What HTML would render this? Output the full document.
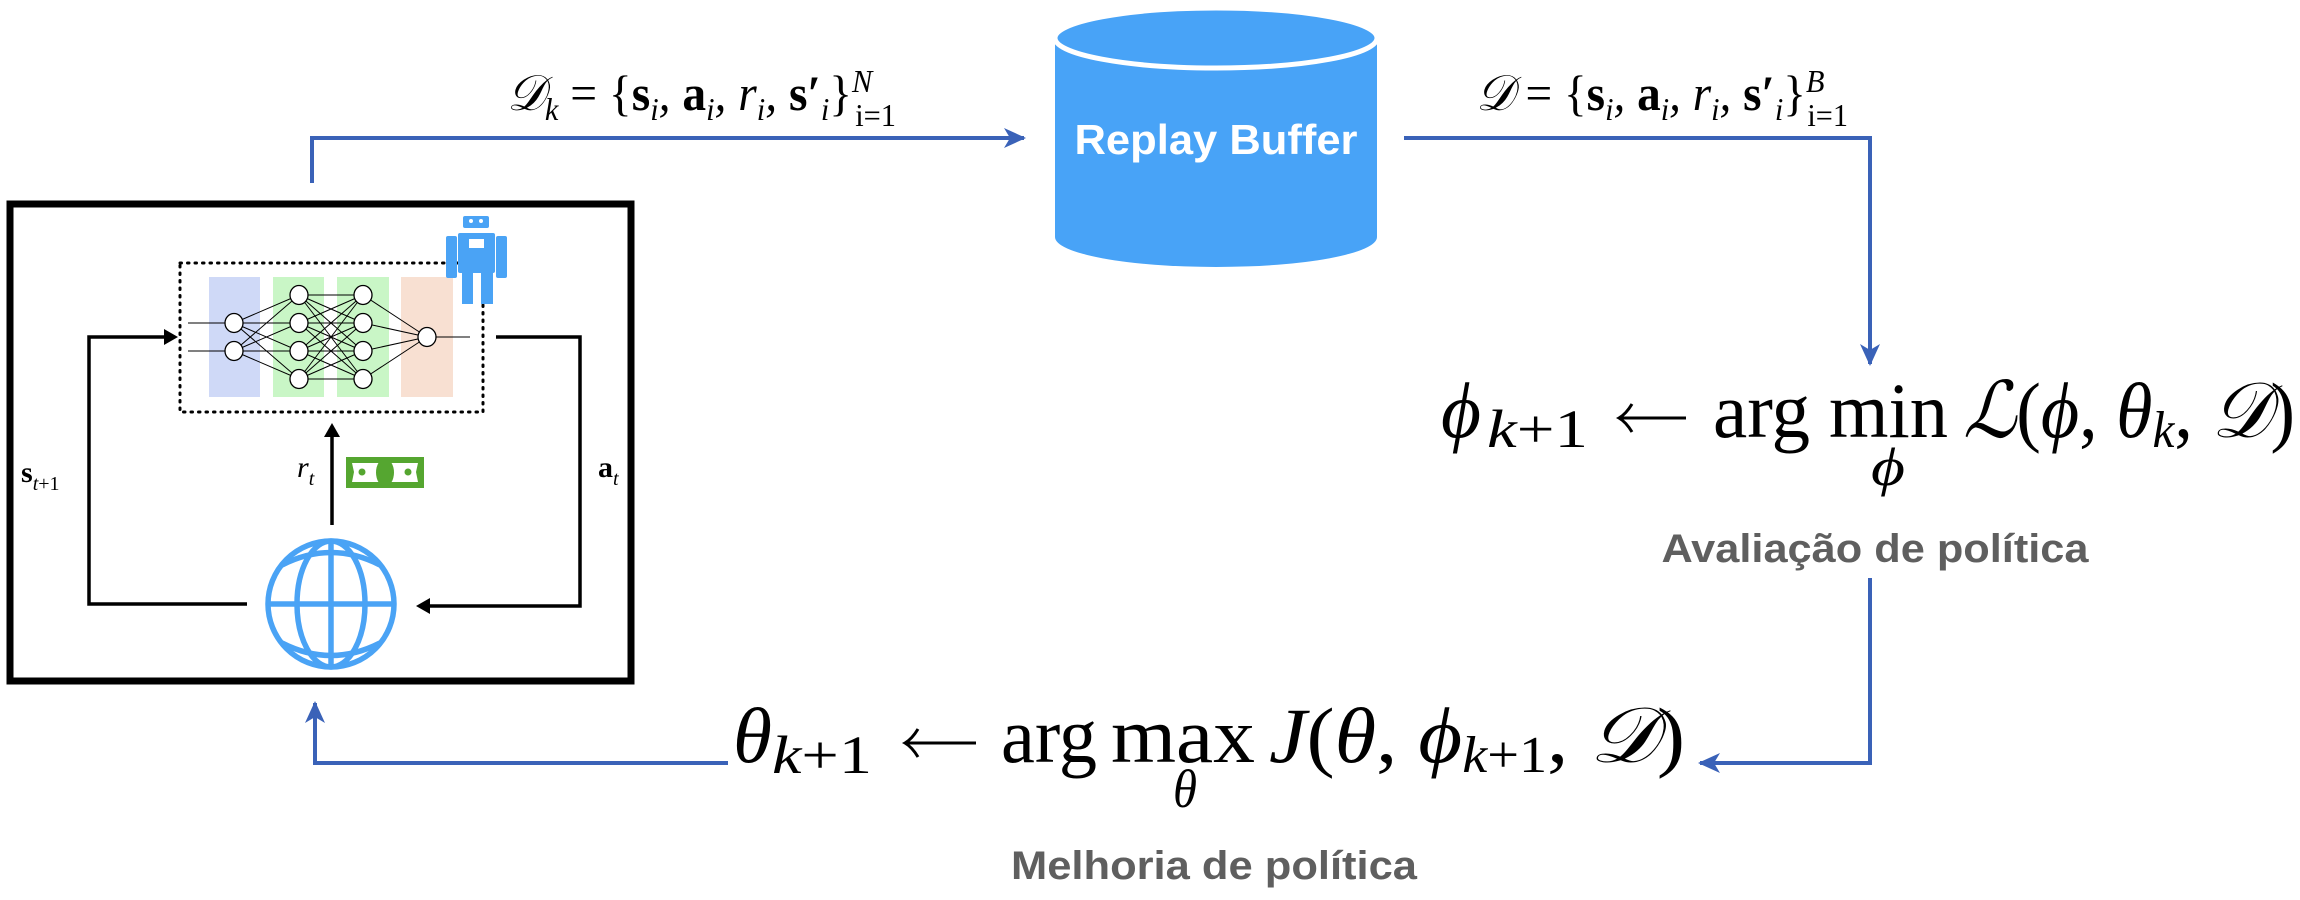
<!DOCTYPE html>
<html><head><meta charset="utf-8"><style>
html,body{margin:0;padding:0;background:#fff;}
svg{display:block;}
.m{font-family:"Liberation Serif","DejaVu Serif",serif;fill:#000;}
</style></head><body>
<svg width="2300" height="900" viewBox="0 0 2300 900" xmlns="http://www.w3.org/2000/svg">
<defs>
<marker id="ab" markerWidth="22" markerHeight="22" refX="20" refY="11" orient="auto" markerUnits="userSpaceOnUse"><path d="M0,1 L22,11 L0,21 L6,11 Z" fill="#3a62b8"/></marker>
</defs>
<rect x="10" y="204" width="621" height="477" fill="none" stroke="#000" stroke-width="7"/>
<rect x="180" y="263" width="303" height="149" fill="none" stroke="#000" stroke-width="3" stroke-dasharray="1.5 6" stroke-linecap="round"/>
<g>
<rect x="209" y="277" width="51" height="120" fill="#cfd9f7"/>
<rect x="273" y="277" width="51" height="120" fill="#c9f6c6"/>
<rect x="337" y="277" width="52" height="120" fill="#c9f6c6"/>
<rect x="401" y="277" width="52" height="120" fill="#f8e0d2"/>
<g stroke="#000" stroke-width="1">
<line x1="188" y1="323" x2="225" y2="323"/><line x1="188" y1="351" x2="225" y2="351"/>
<path d="M234,323L299,295M234,323L299,323M234,323L299,351M234,323L299,379M234,351L299,295M234,351L299,323M234,351L299,351M234,351L299,379"/>
<path d="M299,295L363,295M299,295L363,323M299,295L363,351M299,295L363,379M299,323L363,295M299,323L363,323M299,323L363,351M299,323L363,379M299,351L363,295M299,351L363,323M299,351L363,351M299,351L363,379M299,379L363,295M299,379L363,323M299,379L363,351M299,379L363,379"/>
<path d="M363,295L427,337M363,323L427,337M363,351L427,337M363,379L427,337"/>
<line x1="436" y1="337" x2="470" y2="337"/>
</g>
<g fill="#fff" stroke="#000" stroke-width="1.3">
<ellipse cx="234" cy="323" rx="9" ry="9.5"/><ellipse cx="234" cy="351" rx="9" ry="9.5"/>
<ellipse cx="299" cy="295" rx="9" ry="9.5"/><ellipse cx="299" cy="323" rx="9" ry="9.5"/><ellipse cx="299" cy="351" rx="9" ry="9.5"/><ellipse cx="299" cy="379" rx="9" ry="9.5"/>
<ellipse cx="363" cy="295" rx="9" ry="9.5"/><ellipse cx="363" cy="323" rx="9" ry="9.5"/><ellipse cx="363" cy="351" rx="9" ry="9.5"/><ellipse cx="363" cy="379" rx="9" ry="9.5"/>
<ellipse cx="427" cy="337" rx="9" ry="9.5"/>
</g>
</g>
<g fill="#4aa3f5">
<rect x="463" y="216" width="26" height="12" rx="2"/>
<rect x="458" y="233" width="37" height="40" rx="2"/>
<rect x="446" y="236" width="11" height="42" rx="2"/>
<rect x="496" y="236" width="11" height="42" rx="2"/>
<rect x="462" y="272" width="11" height="32"/><rect x="481" y="272" width="12" height="32"/>
<rect x="469" y="239" width="15" height="9" fill="#fff"/>
<circle cx="471" cy="221" r="2" fill="#fff"/><circle cx="481" cy="221" r="2" fill="#fff"/>
</g>
<g stroke="#000" stroke-width="3.5" fill="none">
<polyline points="247,604 89,604 89,337 166,337"/>
<polyline points="496,337 580,337 580,606 428,606"/>
<line x1="332" y1="525" x2="332" y2="434"/>
</g>
<path d="M178,337 L164,329 L164,345 Z" fill="#000"/>
<path d="M416,606 L430,598 L430,614 Z" fill="#000"/>
<path d="M332,423 L324,437 L340,437 Z" fill="#000"/>
<text x="21" y="482" class="m" font-size="30" font-weight="bold">s<tspan font-style="italic" font-weight="normal" font-size="20" dy="8">t</tspan><tspan font-weight="normal" font-size="20">+1</tspan></text>
<text x="297" y="477" class="m" font-size="30" font-style="italic">r<tspan font-size="20" dy="8">t</tspan></text>
<text x="598" y="477" class="m" font-size="30" font-weight="bold">a<tspan font-style="italic" font-weight="normal" font-size="20" dy="8">t</tspan></text>
<g>
<rect x="346" y="457" width="78" height="31" fill="#55a630"/>
<path d="M352,463 H418 L416,472 L418,482 H352 L354,472 Z" fill="#fff"/>
<ellipse cx="385" cy="472.5" rx="9" ry="14" fill="#55a630"/>
<circle cx="362" cy="472" r="3.5" fill="#55a630"/><circle cx="408" cy="472" r="3.5" fill="#55a630"/>
</g>
<g fill="none" stroke="#4aa3f5" stroke-width="5.5">
<ellipse cx="331" cy="604" rx="63" ry="63"/>
<ellipse cx="331" cy="604" rx="34" ry="63"/>
<line x1="331" y1="541" x2="331" y2="667"/>
<line x1="268" y1="604" x2="394" y2="604"/>
<path d="M282,565 Q331,540 380,565"/>
<path d="M282,643 Q331,668 380,643"/>
</g>
<g>
<path d="M1055,38 V237 A161,30 0 0 0 1377,237 V38 Z" fill="#48a3f7"/>
<ellipse cx="1216" cy="38" rx="161" ry="30" fill="#48a3f7" stroke="#fff" stroke-width="5"/>
<text x="1216" y="154" text-anchor="middle" font-family="Liberation Sans, sans-serif" font-size="42" font-weight="bold" fill="#fff" textLength="283" lengthAdjust="spacingAndGlyphs">Replay Buffer</text>
</g>
<g stroke="#3a62b8" stroke-width="4" fill="none">
<polyline points="312,183 312,138 1024,138" marker-end="url(#ab)"/>
<polyline points="1404,138 1870,138 1870,364" marker-end="url(#ab)"/>
<polyline points="1870,578 1870,763 1700,763" marker-end="url(#ab)"/>
<polyline points="728,763 315,763 315,703" marker-end="url(#ab)"/>
</g>
<text x="507" y="110" class="m" font-size="50" font-style="italic" textLength="389" lengthAdjust="spacingAndGlyphs">𝒟<tspan font-size="32" dy="10">k</tspan><tspan dy="-10" font-style="normal"> = {</tspan><tspan font-weight="bold" font-style="normal">s</tspan><tspan font-size="32" dy="10">i</tspan><tspan dy="-10">, </tspan><tspan font-weight="bold" font-style="normal">a</tspan><tspan font-size="32" dy="10">i</tspan><tspan dy="-10">, r</tspan><tspan font-size="32" dy="10">i</tspan><tspan dy="-10">, </tspan><tspan font-weight="bold" font-style="normal">s′</tspan><tspan font-size="32" dy="10">i</tspan><tspan dy="-10" font-style="normal">}</tspan><tspan font-size="32" dy="-18">N</tspan><tspan font-size="32" dx="-18" dy="34" font-style="normal">i=1</tspan></text>
<text x="1476" y="110" class="m" font-size="50" font-style="italic" textLength="372" lengthAdjust="spacingAndGlyphs">𝒟<tspan font-style="normal"> = {</tspan><tspan font-weight="bold" font-style="normal">s</tspan><tspan font-size="32" dy="10">i</tspan><tspan dy="-10">, </tspan><tspan font-weight="bold" font-style="normal">a</tspan><tspan font-size="32" dy="10">i</tspan><tspan dy="-10">, r</tspan><tspan font-size="32" dy="10">i</tspan><tspan dy="-10">, </tspan><tspan font-weight="bold" font-style="normal">s′</tspan><tspan font-size="32" dy="10">i</tspan><tspan dy="-10" font-style="normal">}</tspan><tspan font-size="32" dy="-18">B</tspan><tspan font-size="32" dx="-18" dy="34" font-style="normal">i=1</tspan></text>
<g>
<text x="1441" y="437" class="m" font-size="78" font-style="italic" textLength="40" lengthAdjust="spacingAndGlyphs">ϕ</text>
<text x="1487" y="447" class="m" font-size="54" textLength="101" lengthAdjust="spacingAndGlyphs"><tspan font-style="italic">k</tspan>+1</text>
<g stroke="#000" stroke-width="3" fill="none"><line x1="1620" y1="418" x2="1686" y2="418"/><path d="M1632,404 Q1626,414 1619,418 Q1626,422 1632,432"/></g>
<text x="1713" y="437" class="m" font-size="78" textLength="97" lengthAdjust="spacingAndGlyphs">arg</text>
<text x="1829" y="437" class="m" font-size="78" textLength="119" lengthAdjust="spacingAndGlyphs">min</text>
<text x="1871" y="485" class="m" font-size="54" font-style="italic" textLength="34" lengthAdjust="spacingAndGlyphs">ϕ</text>
<text x="1963" y="437" class="m" font-size="78" font-style="italic" textLength="332" lengthAdjust="spacingAndGlyphs">ℒ<tspan font-style="normal">(</tspan>ϕ<tspan font-style="normal">, </tspan>θ<tspan font-size="52" dy="10">k</tspan><tspan dy="-10" font-style="normal">, </tspan>𝒟<tspan font-style="normal">)</tspan></text>
</g>
<text x="1875" y="562" text-anchor="middle" font-family="Liberation Sans, sans-serif" font-weight="bold" font-size="40" fill="#5f5f5f" textLength="427" lengthAdjust="spacingAndGlyphs">Avaliação de política</text>
<g>
<text x="733" y="762" class="m" font-size="78" font-style="italic" textLength="39" lengthAdjust="spacingAndGlyphs">θ</text>
<text x="772" y="773" class="m" font-size="54" textLength="100" lengthAdjust="spacingAndGlyphs"><tspan font-style="italic">k</tspan>+1</text>
<g stroke="#000" stroke-width="3" fill="none"><line x1="906" y1="743" x2="976" y2="743"/><path d="M918,729 Q912,739 905,743 Q912,747 918,757"/></g>
<text x="1001" y="762" class="m" font-size="78" textLength="96" lengthAdjust="spacingAndGlyphs">arg</text>
<text x="1111" y="762" class="m" font-size="78" textLength="144" lengthAdjust="spacingAndGlyphs">max</text>
<text x="1173" y="807" class="m" font-size="54" font-style="italic" textLength="24" lengthAdjust="spacingAndGlyphs">θ</text>
<text x="1269" y="762" class="m" font-size="78" font-style="italic" textLength="416" lengthAdjust="spacingAndGlyphs">J<tspan font-style="normal">(</tspan>θ<tspan font-style="normal">, </tspan>ϕ<tspan font-size="52" font-style="normal" dy="10"><tspan font-style="italic">k</tspan>+1</tspan><tspan dy="-10" font-style="normal">, </tspan>𝒟<tspan font-style="normal">)</tspan></text>
</g>
<text x="1214" y="879" text-anchor="middle" font-family="Liberation Sans, sans-serif" font-weight="bold" font-size="40" fill="#5f5f5f" textLength="406" lengthAdjust="spacingAndGlyphs">Melhoria de política</text>
</svg>
</body></html>
